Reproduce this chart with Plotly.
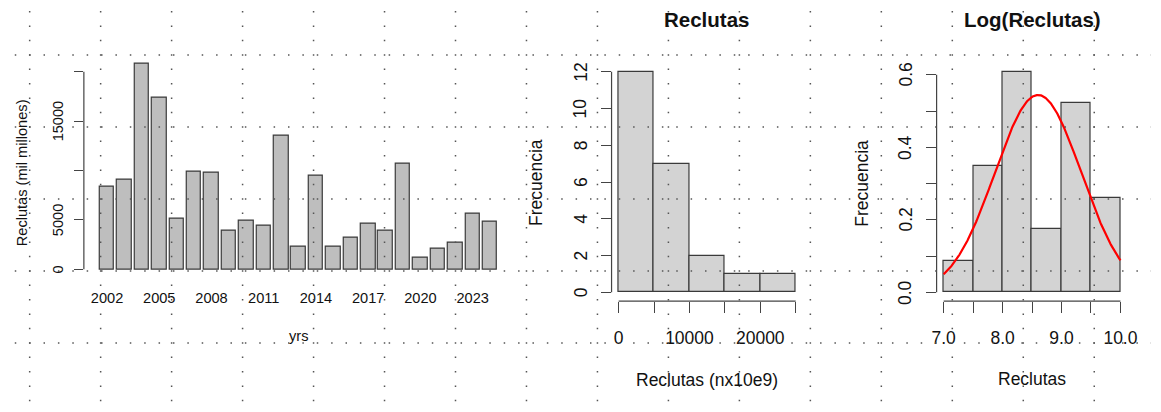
import numpy as np
import plotly.graph_objects as go

# ---------------- data ----------------
years = list(range(2002, 2025))
reclutas = [8365, 9107, 20777, 17370, 5093, 9916, 9815, 3946, 4891, 4452,
            13491, 2260, 9478, 2294, 3171, 4587, 3946, 10658, 1147, 2091,
            2732, 5633, 4823]
year_ticks = years[::3]
left_yticks = [0, 5000, 10000, 15000, 20000]
left_ytext = ["0", "5000", "", "15000", ""]
mid_xticks = [0, 5000, 10000, 15000, 20000, 25000]
mid_xtext = ["0", "", "10000", "", "20000", ""]
mid_yticks = [0, 2, 4, 6, 8, 10, 12]
mid_ytext = ["0", "2", "4", "6", "8", "10", "12"]
log_xticks = [7.0, 7.5, 8.0, 8.5, 9.0, 9.5, 10.0]
log_xtext = ["7.0", "", "8.0", "", "9.0", "", "10.0"]
log_yticks = [0.0, 0.1, 0.2, 0.3, 0.4, 0.5, 0.6]
log_ytext = ["0.0", "", "0.2", "", "0.4", "", "0.6"]

W, H = 1161, 412
FONT = "Liberation Sans, Arial, Helvetica, sans-serif"
AX = "#444444"
EDGE = "#3a3a3a"
TXT = "#111111"

logr = np.log(np.array(reclutas, dtype=float))
mu, sd = logr.mean(), logr.std(ddof=1)
xc = np.linspace(7.0, 10.0, 301)
yc = np.exp(-0.5 * ((xc - mu) / sd) ** 2) / (sd * np.sqrt(2 * np.pi))

fig = go.Figure()
fig.add_trace(go.Bar(x=years, y=reclutas, width=1 / 1.2,
                     marker=dict(color="#BEBEBE", line=dict(color=EDGE, width=1.2)),
                     xaxis="x", yaxis="y", showlegend=False))
fig.add_trace(go.Histogram(x=reclutas, xbins=dict(start=0, end=25000, size=5000),
                           marker=dict(color="#D3D3D3", line=dict(color=EDGE, width=1.2)),
                           xaxis="x2", yaxis="y2", showlegend=False))
fig.add_trace(go.Histogram(x=logr, xbins=dict(start=7.0, end=10.0, size=0.5),
                           histnorm="probability density",
                           marker=dict(color="#D3D3D3", line=dict(color=EDGE, width=1.2)),
                           xaxis="x3", yaxis="y3", showlegend=False))
fig.add_trace(go.Scatter(x=xc, y=yc, mode="lines", line=dict(color="#FF0000", width=2.2),
                         xaxis="x3", yaxis="y3", showlegend=False))


def px_x(p):
    return p / W


def px_y(p):
    return 1 - p / H


tickfont_l = dict(family=FONT, size=14.6, color=TXT)
tickfont_r = dict(family=FONT, size=17.5, color=TXT)
common = dict(showline=False, showgrid=False, zeroline=False, tickcolor=AX, tickwidth=1.2)

fig.update_layout(
    width=W, height=H, margin=dict(l=0, r=0, t=0, b=0),
    paper_bgcolor="white", plot_bgcolor="rgba(0,0,0,0)",
    bargap=0, font=dict(family=FONT, color=TXT),
    xaxis=dict(domain=[px_x(79.9), px_x(514.9)], range=[2000.67, 2025.33],
               tickvals=year_ticks, ticktext=[str(y) for y in year_ticks],
               ticks="", tickfont=tickfont_l, ticklabelstandoff=8, anchor="y", **common),
    yaxis=dict(domain=[px_y(279.6), px_y(55.7)], range=[-1047, 21616],
               tickvals=left_yticks, showticklabels=False,
               ticks="outside", ticklen=9, anchor="x", **common),
    xaxis2=dict(domain=[px_x(614.5), px_x(808.2)], range=[-1000, 26000],
                tickvals=mid_xticks, ticktext=mid_xtext,
                ticks="outside", ticklen=11, tickfont=tickfont_r, ticklabelstandoff=10,
                anchor="y2", **common),
    yaxis2=dict(domain=[px_y(301.1), px_y(62.9)], range=[-0.48, 12.48],
                tickvals=mid_yticks, showticklabels=False,
                ticks="outside", ticklen=10, anchor="x2", **common),
    xaxis3=dict(domain=[px_x(943.8), px_x(1137.2)], range=[6.88, 10.12],
                tickvals=log_xticks, ticktext=log_xtext,
                ticks="outside", ticklen=11, tickfont=tickfont_r, ticklabelstandoff=10,
                anchor="y3", **common),
    yaxis3=dict(domain=[px_y(301.1), px_y(62.9)], range=[-0.0243, 0.633],
                tickvals=log_yticks, showticklabels=False,
                ticks="outside", ticklen=10, anchor="x3", **common),
)

shapes = []
# R-style axis lines spanning first..last tick
shapes.append(dict(type="line", xref="x domain", yref="y", x0=0, x1=0,
                   y0=left_yticks[0], y1=left_yticks[-1], line=dict(color=AX, width=1.2)))
shapes.append(dict(type="line", xref="x2", yref="y2 domain", x0=mid_xticks[0], x1=mid_xticks[-1],
                   y0=0, y1=0, line=dict(color=AX, width=1.2)))
shapes.append(dict(type="line", xref="x2 domain", yref="y2", x0=0, x1=0,
                   y0=mid_yticks[0], y1=mid_yticks[-1], line=dict(color=AX, width=1.2)))
shapes.append(dict(type="line", xref="x3", yref="y3 domain", x0=log_xticks[0], x1=log_xticks[-1],
                   y0=0, y1=0, line=dict(color=AX, width=1.2)))
shapes.append(dict(type="line", xref="x3 domain", yref="y3", x0=0, x1=0,
                   y0=log_yticks[0], y1=log_yticks[-1], line=dict(color=AX, width=1.2)))

# dotted background grid pattern (decoration)
DOT = "#555555"
for yy in [55, 127, 199, 271, 343]:
    shapes.append(dict(type="line", xref="paper", yref="paper",
                       x0=px_x(9.9), x1=1, y0=px_y(yy), y1=px_y(yy),
                       line=dict(color=DOT, width=1.5, dash="1.5px,12.88px")))
for k in range(16):
    xx = 25 + 71.9 * k
    shapes.append(dict(type="line", xref="paper", yref="paper",
                       x0=px_x(xx), x1=px_x(xx), y0=px_y(11.0), y1=0,
                       line=dict(color=DOT, width=1.5, dash="1.5px,12.9px")))
fig.update_layout(shapes=shapes)

ann = []
# rotated y tick labels (R style, parallel to the axis)
for yref, vals, texts, xpx, fsize in [("y", left_yticks, left_ytext, 54, 14.6),
                                      ("y2", mid_yticks, mid_ytext, 583.5, 17.5),
                                      ("y3", log_yticks, log_ytext, 912.5, 17.5)]:
    for v, t in zip(vals, texts):
        if t:
            ann.append(dict(text=t, x=px_x(xpx), y=v, xref="paper", yref=yref, textangle=-90,
                            font=dict(family=FONT, size=fsize, color=TXT)))

titles = [
    dict(text="Reclutas (mil millones)", x=px_x(17.5), y=px_y(173), textangle=-90,
         font=dict(family=FONT, size=14.6, color=TXT)),
    dict(text="yrs", x=px_x(297.4), y=px_y(336), font=dict(family=FONT, size=14.6, color=TXT)),
    dict(text="<b>Reclutas</b>", x=px_x(711), y=px_y(20), font=dict(family=FONT, size=20.5, color=TXT)),
    dict(text="Frecuencia", x=px_x(538), y=px_y(183), textangle=-90,
         font=dict(family=FONT, size=17.5, color=TXT)),
    dict(text="Reclutas (nx10e9)", x=px_x(711), y=px_y(380), font=dict(family=FONT, size=17.5, color=TXT)),
    dict(text="<b>Log(Reclutas)</b>", x=px_x(1040.5), y=px_y(20), font=dict(family=FONT, size=20.5, color=TXT)),
    dict(text="Frecuencia", x=px_x(868), y=px_y(183), textangle=-90,
         font=dict(family=FONT, size=17.5, color=TXT)),
    dict(text="Reclutas", x=px_x(1040.5), y=px_y(379), font=dict(family=FONT, size=17.5, color=TXT)),
]
for a in titles:
    a.update(xref="paper", yref="paper")
ann.extend(titles)
for a in ann:
    a.update(showarrow=False, xanchor="center", yanchor="middle")
fig.update_layout(annotations=ann)

fig.write_html("out.html")
